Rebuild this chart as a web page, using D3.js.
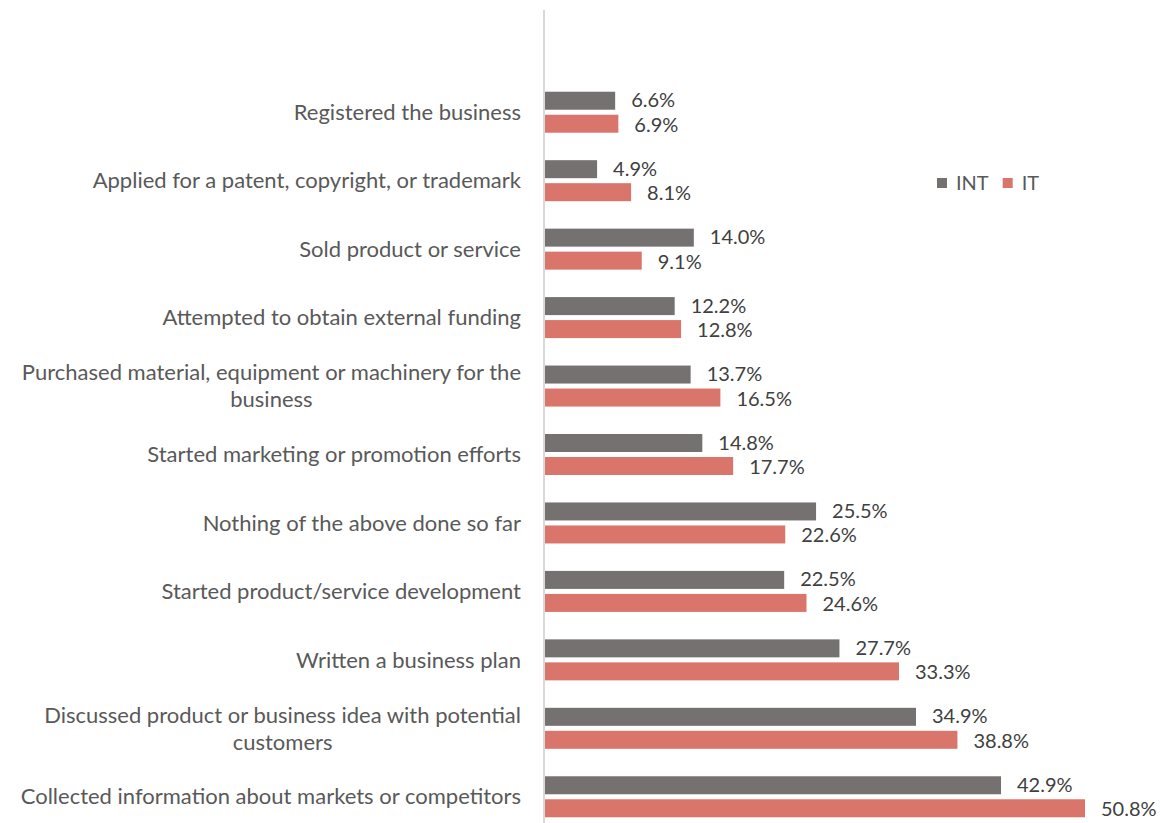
<!DOCTYPE html>
<html>
<head>
<meta charset="utf-8">
<script src="https://cdn.jsdelivr.net/npm/d3@7"></script>
<style>
  body { margin: 0; background: #fff; }
  svg text { font-family: Lato, 'Open Sans', sans-serif; }
</style>
</head>
<body>
<div id="chart"></div>
<script>
var categories = [
    ['Registered the business'],
    ['Applied for a patent, copyright, or trademark'],
    ['Sold product or service'],
    ['Attempted to obtain external funding'],
    ['Purchased material, equipment or machinery for the', 'business'],
    ['Started marketing or promotion efforts'],
    ['Nothing of the above done so far'],
    ['Started product/service development'],
    ['Written a business plan'],
    ['Discussed product or business idea with potential', 'customers'],
    ['Collected information about markets or competitors']
];
var intValues = [6.6, 4.9, 14.0, 12.2, 13.7, 14.8, 25.5, 22.5, 27.7, 34.9, 42.9];
var itValues = [6.9, 8.1, 9.1, 12.8, 16.5, 17.7, 22.6, 24.6, 33.3, 38.8, 50.8];
var seriesNames = ['INT', 'IT'];
var colors = ['#767171', '#d9756b'];

var W = 1164, H = 823;
var x0 = 545;
var fontSize = '20px';

var svg = d3.select('#chart').append('svg')
    .attr('width', W)
    .attr('height', H);

var xScale = d3.scaleLinear()
    .domain([0, 50.8])
    .range([x0, 1085]);

var yScale = d3.scaleBand()
    .domain(d3.range(categories.length))
    .range([78, 831]);

var series = [intValues, itValues];

// bars
series.forEach((vals, s) => {
    var g = svg.append('g');
    g.selectAll('rect')
        .data(vals)
        .enter().append('rect')
        .attr('x', xScale(0))
        .attr('y', (d, i) => yScale(i) + yScale.bandwidth() / 2 + (s == 0 ? -20.5 : 2.5))
        .attr('width', d => xScale(d) - xScale(0))
        .attr('height', 18)
        .style('fill', colors[s]);

    g.selectAll('text')
        .data(vals)
        .enter().append('text')
        .attr('x', d => xScale(d) + 16)
        .attr('y', (d, i) => yScale(i) + yScale.bandwidth() / 2 + (s == 0 ? -12 : 12.5))
        .attr('dy', '0.35em')
        .style('font-size', fontSize)
        .style('fill', '#404040')
        .text(d => d.toFixed(1) + '%');
});

// axis line
svg.append('line')
    .attr('x1', x0 - 1).attr('x2', x0 - 1)
    .attr('y1', 10).attr('y2', H)
    .style('stroke', '#d9d9d9')
    .style('stroke-width', 2);

// category labels
var labels = svg.append('g');
categories.forEach((lines, i) => {
    var cy = yScale(i) + yScale.bandwidth() / 2;
    var t = labels.append('text')
        .style('font-size', '22px')
        .style('fill', '#595959')
        .attr('text-anchor', 'end')
        .attr('x', 521)
        .attr('y', cy - (lines.length - 1) * 13.5)
        .attr('dy', '0.35em');
    if (lines.length == 1) {
        t.text(lines[0]);
    } else {
        t.attr('text-anchor', 'middle');
        lines.forEach((l, j) => {
            t.append('tspan')
                .attr('x', 0)
                .attr('dy', j == 0 ? '0.35em' : 27)
                .text(l);
        });
        // center the block, right edge at 521
        var w = t.node().getBBox().width;
        t.selectAll('tspan').attr('x', 521 - w / 2);
    }
});

// legend
var legend = svg.append('g').attr('transform', 'translate(937, 183)');
var lx = 0;
seriesNames.forEach((name, i) => {
    var item = legend.append('g').attr('transform', `translate(${lx}, 0)`);
    item.append('rect')
        .attr('x', 0).attr('y', -5)
        .attr('width', 10).attr('height', 10)
        .style('fill', colors[i]);
    var txt = item.append('text')
        .attr('x', 19)
        .attr('dy', '0.35em')
        .style('font-size', fontSize)
        .style('fill', '#595959')
        .text(name);
    lx += 19 + txt.node().getComputedTextLength() + 14;
});
</script>
</body>
</html>
